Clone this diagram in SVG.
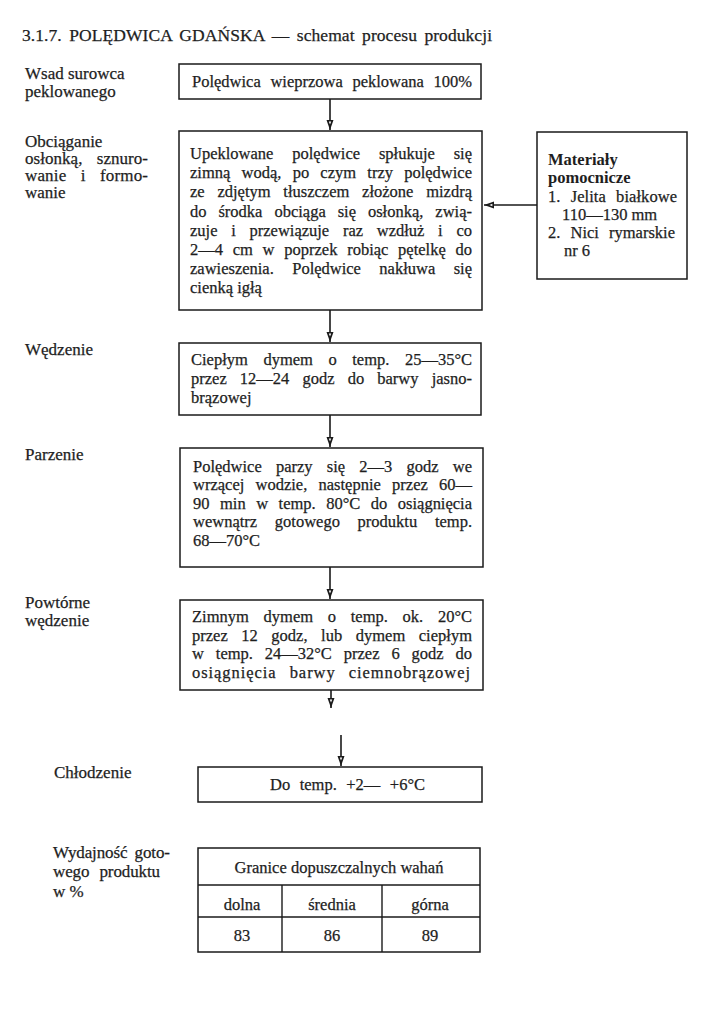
<svg xmlns="http://www.w3.org/2000/svg" width="704" height="1024" viewBox="0 0 704 1024">
<defs>
<style>
text{font-family:"Liberation Serif","DejaVu Serif",serif;font-size:16.5px;fill:#1e1e1e;stroke:#1e1e1e;stroke-width:0.25}
.title{font-size:17.5px}
.lab{font-size:17px}
.b{font-weight:bold;stroke-width:0}
.box{fill:none;stroke:#1a1a1a;stroke-width:1.5}
.ln{fill:none;stroke:#1a1a1a;stroke-width:1.4}
.c{stroke:#1a1a1a;stroke-width:1.6;fill:none}
.m{text-anchor:middle}
</style>
<marker id="ah" markerUnits="userSpaceOnUse" markerWidth="11" markerHeight="9" viewBox="0 0 11 9" refX="10" refY="4.5" orient="auto">
<path d="M0,1 L10,4.5 L0,8 Z" fill="#1a1a1a"/>
<path d="M1.6,3.3 L4.6,4.5 L1.6,5.7 Z" fill="#ffffff"/>
</marker>
</defs>
<rect width="704" height="1024" fill="#ffffff"/>

<text class="title" x="22" y="41" word-spacing="3" textLength="470" lengthAdjust="spacing">3.1.7. POLĘDWICA GDAŃSKA — schemat procesu produkcji</text>

<g id="labels" class="lab">
<text class="lab" x="25" y="79">Wsad surowca</text>
<text class="lab" x="25" y="97">peklowanego</text>
<text class="lab" x="25" y="147">Obciąganie</text>
<text class="lab" x="25" y="164" word-spacing="10" textLength="123" lengthAdjust="spacing">osłonką, sznuro-</text>
<text class="lab" x="25" y="181" word-spacing="10" textLength="123" lengthAdjust="spacing">wanie i formo-</text>
<text class="lab" x="25" y="198">wanie</text>
<text class="lab" x="25" y="355">Wędzenie</text>
<text class="lab" x="25" y="460">Parzenie</text>
<text class="lab" x="25" y="608">Powtórne</text>
<text class="lab" x="25" y="626">wędzenie</text>
<text class="lab" x="54" y="778">Chłodzenie</text>
<text class="lab" x="53" y="858" word-spacing="3" textLength="117" lengthAdjust="spacing">Wydajność goto-</text>
<text class="lab" x="53" y="877" word-spacing="6" textLength="107" lengthAdjust="spacing">wego produktu</text>
<text class="lab" x="53" y="897">w %</text>
</g>

<g id="n1">
<rect class="box" x="179" y="64" width="302" height="35"/>
<text x="192" y="87" word-spacing="5.5" textLength="280" lengthAdjust="spacing">Polędwica wieprzowa peklowana 100%</text>
</g>

<g id="n2">
<rect class="box" x="179" y="131" width="303" height="179"/>
<text x="190" y="159" word-spacing="14.7" textLength="282" lengthAdjust="spacing">Upeklowane polędwice spłukuje się</text>
<text x="190" y="178" word-spacing="7.1" textLength="282" lengthAdjust="spacing">zimną wodą, po czym trzy polędwice</text>
<text x="190" y="197" word-spacing="8.6" textLength="282" lengthAdjust="spacing">ze zdjętym tłuszczem złożone mizdrą</text>
<text x="190" y="217" word-spacing="7.8" textLength="282" lengthAdjust="spacing">do środka obciąga się osłonką, zwią-</text>
<text x="190" y="236" word-spacing="9.6" textLength="282" lengthAdjust="spacing">zuje i przewiązuje raz wzdłuż i co</text>
<text x="190" y="255" word-spacing="5.6" textLength="282" lengthAdjust="spacing">2—4 cm w poprzek robiąc pętelkę do</text>
<text x="190" y="274" word-spacing="14.3" textLength="282" lengthAdjust="spacing">zawieszenia. Polędwice nakłuwa się</text>
<text x="190" y="293">cienką igłą</text>
</g>

<g id="n_materialy">
<rect class="box" x="537" y="132" width="150" height="147"/>
<text class="b" x="548" y="165">Materiały</text>
<text class="b" x="548" y="183">pomocnicze</text>
<text x="548" y="202" word-spacing="6" textLength="129" lengthAdjust="spacing">1. Jelita białkowe</text>
<text x="562" y="220">110—130 mm</text>
<text x="548" y="238" word-spacing="6" textLength="127" lengthAdjust="spacing">2. Nici rymarskie</text>
<text x="564" y="256">nr 6</text>
</g>

<g id="n3">
<rect class="box" x="179" y="343" width="302" height="72"/>
<text x="191" y="365" word-spacing="11.4" textLength="281" lengthAdjust="spacing">Ciepłym dymem o temp. 25—35°C</text>
<text x="191" y="384" word-spacing="9" textLength="281" lengthAdjust="spacing">przez 12—24 godz do barwy jasno-</text>
<text x="191" y="403">brązowej</text>
</g>

<g id="n4">
<rect class="box" x="180" y="448" width="303" height="119"/>
<text x="193" y="472" word-spacing="10.1" textLength="279" lengthAdjust="spacing">Polędwice parzy się 2—3 godz we</text>
<text x="193" y="490" word-spacing="7.1" textLength="279" lengthAdjust="spacing">wrzącej wodzie, następnie przez 60—</text>
<text x="193" y="509" word-spacing="6.4" textLength="279" lengthAdjust="spacing">90 min w temp. 80°C do osiągnięcia</text>
<text x="193" y="527" word-spacing="13.6" textLength="279" lengthAdjust="spacing">wewnątrz gotowego produktu temp.</text>
<text x="193" y="546">68—70°C</text>
</g>

<g id="n5">
<rect class="box" x="180" y="600" width="303" height="90"/>
<text x="192" y="622" word-spacing="10.6" textLength="280" lengthAdjust="spacing">Zimnym dymem o temp. ok. 20°C</text>
<text x="192" y="641" word-spacing="9.4" textLength="280" lengthAdjust="spacing">przez 12 godz, lub dymem ciepłym</text>
<text x="192" y="659" word-spacing="7.8" textLength="280" lengthAdjust="spacing">w temp. 24—32°C przez 6 godz do</text>
<text x="192" y="678" word-spacing="8" textLength="278" lengthAdjust="spacing">osiągnięcia barwy ciemnobrązowej</text>
</g>

<g id="n6">
<rect class="box" x="198" y="767" width="284" height="35"/>
<text x="270" y="790" word-spacing="5.4" textLength="155" lengthAdjust="spacing">Do temp. +2— +6°C</text>
</g>

<g id="n_table">
<rect class="box" x="198" y="848" width="282" height="104"/>
<line class="ln" x1="198" y1="885" x2="480" y2="885"/>
<line class="ln" x1="198" y1="917" x2="480" y2="917"/>
<line class="ln" x1="282" y1="885" x2="282" y2="952"/>
<line class="ln" x1="382" y1="885" x2="382" y2="952"/>
<text class="m" x="339" y="873">Granice dopuszczalnych wahań</text>
<text class="m" x="242" y="910">dolna</text>
<text class="m" x="332" y="910">średnia</text>
<text class="m" x="430" y="910">górna</text>
<text class="m" x="242" y="941">83</text>
<text class="m" x="332" y="941">86</text>
<text class="m" x="430" y="941">89</text>
</g>

<g id="connectors">
<line class="c" x1="330" y1="99" x2="330" y2="130" marker-end="url(#ah)"/>
<line class="c" x1="330" y1="310" x2="330" y2="342" marker-end="url(#ah)"/>
<line class="c" x1="330" y1="415" x2="330" y2="447" marker-end="url(#ah)"/>
<line class="c" x1="330" y1="567" x2="330" y2="599" marker-end="url(#ah)"/>
<line class="c" x1="331" y1="690" x2="331" y2="708" marker-end="url(#ah)"/>
<line class="c" x1="341" y1="735" x2="341" y2="766" marker-end="url(#ah)"/>
<line class="c" x1="537" y1="205" x2="484" y2="205" marker-end="url(#ah)"/>
</g>
</svg>
